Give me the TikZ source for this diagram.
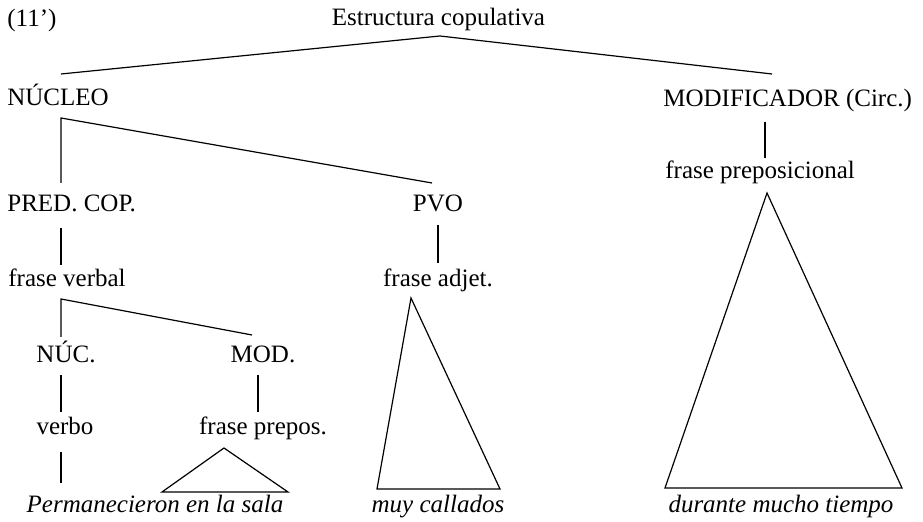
\documentclass[tikz,border=0pt]{standalone}
\usepackage{fontspec}
\setmainfont{Liberation Serif}
\usetikzlibrary{positioning}

\begin{document}
\begin{tikzpicture}[x=0.5pt,y=-0.5pt,
    lbl/.style={inner sep=0pt, anchor=base, font=\fontsize{12.5}{14}\selectfont},
    lblw/.style={lbl, anchor=base west},
    leaf/.style={lbl, font=\fontsize{12.5}{14}\selectfont\itshape},
    edge/.style={line width=0.6pt, black},
    roof/.style={edge, line join=miter}
  ]
  \useasboundingbox (0,0) rectangle (923,522);

  % labels of the tree
  \node[lblw] (num) at (7,27) {(11’)};
  \node[lbl] (root) at (438.5,26) {Estructura copulativa};
  \node[lblw] (nucleo) at (7,106) {NÚCLEO};
  \node[lblw] (modif) at (663,107) {MODIFICADOR (Circ.)};
  \node[lblw] (predcop) at (7,212) {PRED. COP.};
  \node[lbl] (pvo) at (438,212) {PVO};
  \node[lblw] (fprepcirc) at (665,179) {frase preposicional};
  \node[lblw] (fverbal) at (8,287) {frase verbal};
  \node[lbl] (fadjet) at (438,287) {frase adjet.};
  \node[lbl] (nuc) at (66,363) {NÚC.};
  \node[lbl] (mod) at (263,363) {MOD.};
  \node[lbl] (verbo) at (65,435) {verbo};
  \node[lbl] (fprepos) at (263,435) {frase prepos.};
  \node[leaf] (perm) at (155,513) {Permanecieron en la sala};
  \node[leaf] (muy) at (438,513) {muy callados};
  \node[leaf] (durante) at (781,513) {durante mucho tiempo};

  % branch points
  \coordinate (root-b) at (440,36);
  \coordinate (nucleo-t) at (61,74);
  \coordinate (modif-t) at (772,74);
  \coordinate (nucleo-b) at (61,118);
  \coordinate (predcop-t) at (61,183);
  \coordinate (pvo-t) at (432,183);
  \coordinate (predcop-b) at (61,228);
  \coordinate (fverbal-t) at (61,265);
  \coordinate (pvo-b) at (438,225);
  \coordinate (fadjet-t) at (438,263);
  \coordinate (modif-b) at (765,122);
  \coordinate (fprepcirc-t) at (765,158);
  \coordinate (fverbal-b) at (61,299);
  \coordinate (nuc-t) at (61,337);
  \coordinate (mod-t) at (252,335);
  \coordinate (nuc-b) at (61,375);
  \coordinate (verbo-t) at (61,412);
  \coordinate (mod-b) at (258,375);
  \coordinate (fprepos-t) at (258,412);
  \coordinate (verbo-b) at (61,452);
  \coordinate (perm-t) at (61,483);

  \draw[edge] (nucleo-t) -- (root-b) -- (modif-t);
  \draw[edge] (predcop-t) -- (nucleo-b) -- (pvo-t);
  \draw[edge] (predcop-b) -- (fverbal-t);
  \draw[edge] (pvo-b) -- (fadjet-t);
  \draw[edge] (modif-b) -- (fprepcirc-t);
  \draw[edge] (nuc-t) -- (fverbal-b) -- (mod-t);
  \draw[edge] (nuc-b) -- (verbo-t);
  \draw[edge] (mod-b) -- (fprepos-t);
  \draw[edge] (verbo-b) -- (perm-t);

  % triangles over the phrases
  \draw[roof] (224,448) -- (162,492) -- (288,492) -- cycle;
  \draw[roof] (411,298) -- (377,489) -- (500,489) -- cycle;
  \draw[roof] (767,193) -- (665,488) -- (902,488) -- cycle;
\end{tikzpicture}
\end{document}
